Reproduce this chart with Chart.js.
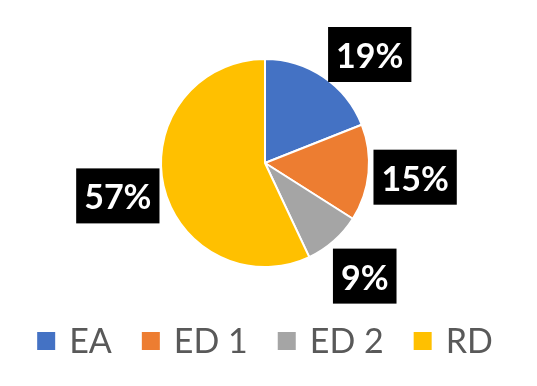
<!DOCTYPE html>
<html>
<head>
<meta charset="utf-8">
<script src="https://cdn.jsdelivr.net/npm/chart.js@4"></script>
<style>
  html, body { margin: 0; padding: 0; background: #fff; }
  #wrap { width: 537px; height: 386px; }
</style>
</head>
<body>
<div id="wrap"><canvas id="pieChart" width="537" height="386"></canvas></div>
<script>
// data
const categories = ['EA', 'ED 1', 'ED 2', 'RD'];
const shares = [19, 15, 9, 57];
const sliceColors = ['#4472C4', '#ED7D31', '#A5A5A5', '#FFC000'];

// black boxed percentage labels, placed on a ring outside the pie
const boxLabels = {
  id: 'boxLabels',
  afterDatasetsDraw(chart) {
    const ctx = chart.ctx;
    const meta = chart.getDatasetMeta(0);
    const minTop = 27;
    ctx.save();
    ctx.font = 'bold 34px Lato';
    ctx.textAlign = 'center';
    ctx.textBaseline = 'alphabetic';
    meta.data.forEach((arc, i) => {
      const p = arc.getProps(['x', 'y', 'startAngle', 'endAngle', 'outerRadius'], true);
      const mid = (p.startAngle + p.endAngle) / 2;
      const dist = p.outerRadius * 1.45;
      const text = shares[i] + '%';
      const w = ctx.measureText(text).width + 16;
      const h = 55;
      let lx = p.x + Math.cos(mid) * dist;
      let ly = p.y + Math.sin(mid) * dist;
      // keep box inside the top edge, sliding along the ring
      if (ly - h / 2 < minTop) {
        ly = minTop + h / 2;
        const dy = ly - p.y;
        lx = p.x + Math.sign(Math.cos(mid)) * Math.sqrt(Math.max(dist * dist - dy * dy, 0));
      }
      ctx.fillStyle = '#000';
      ctx.fillRect(lx - w / 2, ly - h / 2, w, h);
      ctx.fillStyle = '#fff';
      ctx.fillText(text, lx, ly + 13.5);
    });
    ctx.restore();
  }
};

// legend row under the pie
const bottomLegend = {
  id: 'bottomLegend',
  afterDraw(chart) {
    const ctx = chart.ctx;
    const arc = chart.getDatasetMeta(0).data[0];
    const box = 18, gap = 14, itemGap = 30;
    const baseY = 353;
    ctx.save();
    ctx.font = '34px Lato';
    ctx.textBaseline = 'alphabetic';
    ctx.textAlign = 'left';
    const widths = categories.map(c => ctx.measureText(c).width);
    const total = widths.reduce((s, w) => s + box + gap + w, 0) + itemGap * (categories.length - 1);
    let x = arc.x - total / 2;
    categories.forEach((c, i) => {
      ctx.fillStyle = sliceColors[i];
      ctx.fillRect(x, baseY - 21, box, box);
      x += box + gap;
      ctx.fillStyle = '#595959';
      ctx.fillText(c, x, baseY);
      x += widths[i] + itemGap;
    });
    ctx.restore();
  }
};

new Chart(document.getElementById('pieChart'), {
  type: 'pie',
  data: {
    labels: categories,
    datasets: [{
      data: shares,
      backgroundColor: sliceColors,
      borderColor: '#fff',
      borderWidth: 2
    }]
  },
  options: {
    responsive: false,
    animation: false,
    devicePixelRatio: 1,
    layout: { padding: { top: 58, bottom: 118, left: 160, right: 167 } },
    plugins: {
      legend: { display: false },
      tooltip: { enabled: false }
    }
  },
  plugins: [boxLabels, bottomLegend]
});
</script>
</body>
</html>
